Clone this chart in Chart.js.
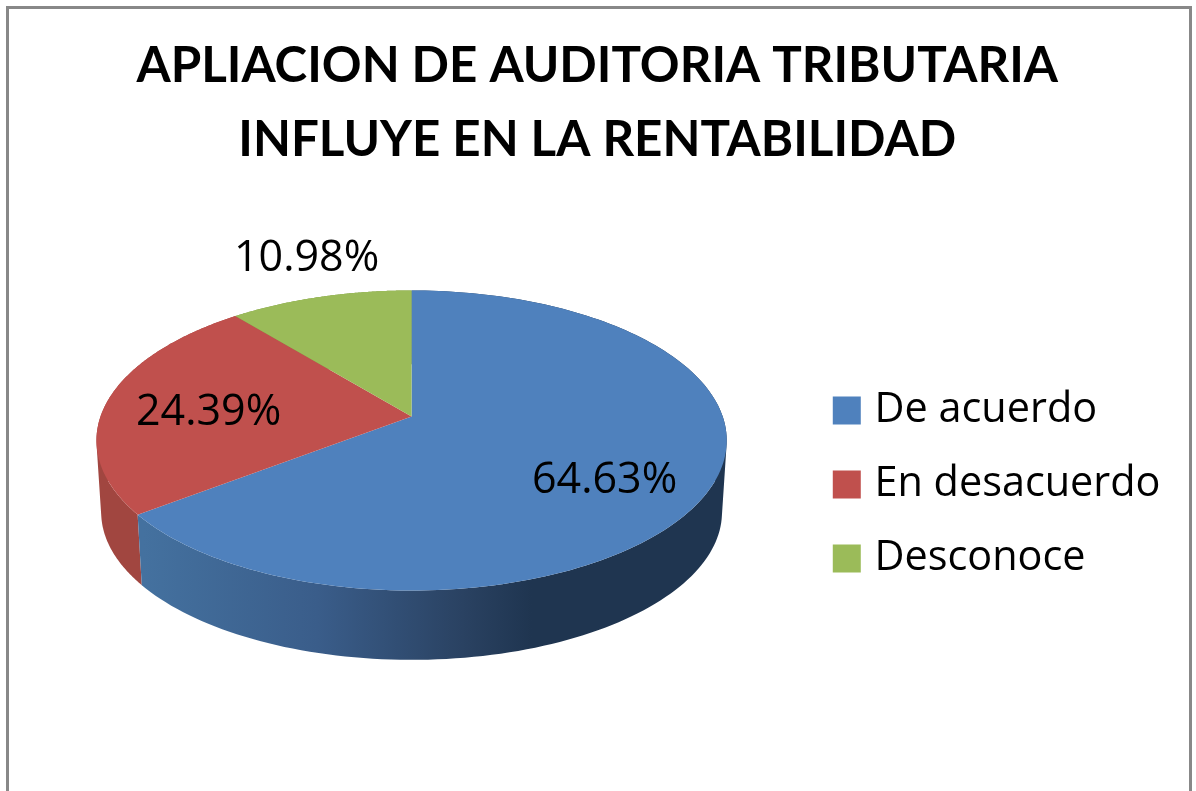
<!DOCTYPE html>
<html>
<head>
<meta charset="utf-8">
<title>Auditoria tributaria</title>
<script src="https://cdn.jsdelivr.net/npm/chart.js@4/dist/chart.umd.min.js"></script>
<style>
  html, body { margin: 0; padding: 0; background: #fff; overflow: hidden; }
  #frame { position: absolute; left: 6px; top: 6px; width: 1180px; height: 785px; border: 3px solid #888; border-bottom: 0; }
  #wrap { position: absolute; left: 0; top: 0; width: 1196px; height: 791px; }
</style>
</head>
<body>
<div id="wrap"><canvas id="myChart" width="1196" height="791"></canvas></div>
<div id="frame"></div>
<script>
// Datos
var categories = ['De acuerdo', 'En desacuerdo', 'Desconoce'];
var percentages = [64.63, 24.39, 10.98];
var titleLines = ['APLIACION DE AUDITORIA TRIBUTARIA', 'INFLUYE EN LA RENTABILIDAD'];

var topColors = ['#4f81bd', '#c0504d', '#9bbb59'];
var sideStops = [
  [[0, '#44719f'], [0.3, '#3a5d8a'], [0.55, '#2a4262'], [0.67, '#1f3550'], [1, '#1f3550']],
  [[0, '#a14640'], [1, '#a14640']],
  [[0, '#7d9a45'], [1, '#7d9a45']]
];
var titleFont = 'Lato, "Open Sans", sans-serif';
var textFont = '"Open Sans", Lato, sans-serif';

// Perspectiva del pastel 3D
var pie3d = {
  shiftY: -68,     // vertice respecto al centro del area
  scaleX: 1.0455,
  scaleY: 0.4913,
  persp: -0.16,
  depth: 72,
  shrink: 0.985
};
// Etiquetas: desplazamiento desde el vertice del pastel
var labelOffsets = [[193, 64], [-203, -4], [-105, -158]];

function rimPoint(arc, angle, lower) {
  var cy = arc.y + pie3d.shiftY;
  var w = 1 + pie3d.persp * Math.sin(angle);
  var dx = arc.outerRadius * pie3d.scaleX * Math.cos(angle) / w;
  var dy = arc.outerRadius * pie3d.scaleY * Math.sin(angle) / w;
  if (lower) {
    return { x: arc.x + dx * pie3d.shrink, y: cy + pie3d.depth + dy * pie3d.shrink };
  }
  return { x: arc.x + dx, y: cy + dy };
}

function traceRim(ctx, arc) {
  var steps = 160;
  for (var i = 0; i <= steps; i++) {
    var p = rimPoint(arc, arc.startAngle + (arc.endAngle - arc.startAngle) * i / steps, false);
    ctx.lineTo(p.x, p.y);
  }
}

// pared lateral: un solo trazado con tiras de igual orientacion, sin costuras
function fillWall(ctx, arc, paint) {
  var steps = 160;
  var step = (arc.endAngle - arc.startAngle) / steps;
  ctx.beginPath();
  for (var i = 0; i < steps; i++) {
    var a = arc.startAngle + step * i;
    var q = [rimPoint(arc, a, false), rimPoint(arc, a + step, false), rimPoint(arc, a + step, true), rimPoint(arc, a, true)];
    var area = 0;
    for (var k = 0; k < 4; k++) {
      var n = q[(k + 1) % 4];
      area += q[k].x * n.y - n.x * q[k].y;
    }
    if (area < 0) {
      q.reverse();
    }
    ctx.moveTo(q[0].x, q[0].y);
    ctx.lineTo(q[1].x, q[1].y);
    ctx.lineTo(q[2].x, q[2].y);
    ctx.lineTo(q[3].x, q[3].y);
    ctx.closePath();
  }
  ctx.fillStyle = paint;
  ctx.fill();
}

var pie3dPlugin = {
  id: 'pie3d',
  afterLayout: function (chart) {
    // el titulo va centrado un poco a la derecha
    chart.titleBlock.left += 4;
    chart.titleBlock.right += 4;
  },
  beforeDatasetDraw: function (chart) {
    var ctx = chart.ctx;
    var arcs = chart.getDatasetMeta(0).data;
    var left = arcs[0].x - arcs[0].outerRadius * pie3d.scaleX;
    var width = 2 * arcs[0].outerRadius * pie3d.scaleX;

    ctx.save();
    // paredes primero, de atras hacia adelante
    [2, 1, 0].forEach(function (i) {
      var grad = ctx.createLinearGradient(left + width * 0.07, 0, left + width, 0);
      sideStops[i].forEach(function (s) { grad.addColorStop(s[0], s[1]); });
      fillWall(ctx, arcs[i], grad);
    });
    // cara superior
    arcs.forEach(function (arc, i) {
      ctx.beginPath();
      ctx.moveTo(arc.x, arc.y + pie3d.shiftY);
      traceRim(ctx, arc);
      ctx.closePath();
      ctx.fillStyle = topColors[i];
      ctx.fill();
    });
    // porcentajes
    ctx.fillStyle = '#000';
    ctx.font = '43px ' + textFont;
    ctx.textAlign = 'center';
    ctx.textBaseline = 'middle';
    arcs.forEach(function (arc, i) {
      ctx.fillText(percentages[i].toFixed(2) + '%', arc.x + labelOffsets[i][0], arc.y + pie3d.shiftY + labelOffsets[i][1]);
    });
    ctx.restore();
    return false;
  }
};

document.addEventListener('DOMContentLoaded', function () {
  var ctx = document.getElementById('myChart').getContext('2d');

  var config = {
    type: 'pie',
    data: {
      labels: categories,
      datasets: [{
        data: percentages,
        backgroundColor: topColors,
        borderColor: topColors, // agranda el cuadro de la leyenda
        borderWidth: 14
      }]
    },
    options: {
      responsive: false,
      animation: false,
      events: [],
      layout: { padding: { left: 16, right: 25.5, top: 29, bottom: 2 } },
      plugins: {
        title: {
          display: true,
          text: titleLines,
          color: '#000',
          font: { family: titleFont, size: 49.3, weight: 'bold', lineHeight: 1.5 },
          padding: { top: 0, bottom: 3 }
        },
        legend: {
          position: 'right',
          fullSize: false,
          labels: {
            color: '#000',
            boxWidth: 14,
            boxHeight: 14,
            padding: 32.6,
            font: { family: textFont, size: 41.4 }
          }
        },
        tooltip: { enabled: false }
      }
    },
    plugins: [pie3dPlugin]
  };

  var myChart = new Chart(ctx, config);
});
</script>
</body>
</html>
